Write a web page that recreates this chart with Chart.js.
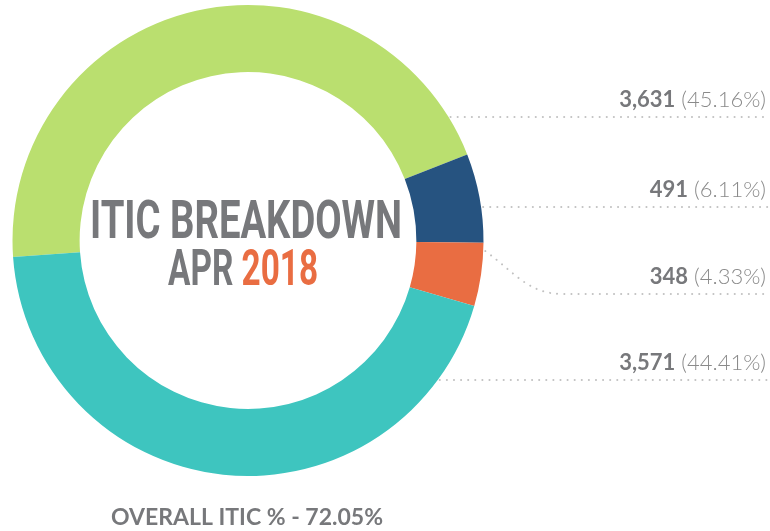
<!DOCTYPE html>
<html>
<head>
<meta charset="utf-8">
<script src="https://cdn.jsdelivr.net/npm/chart.js@4"></script>
<style>
    html, body { margin: 0; padding: 0; background: #fff; }
    canvas { display: block; }
</style>
</head>
<body>
<canvas id="iticChart" width="770" height="531"></canvas>
<script>
// ============================================================
// Data
// ============================================================

const CATEGORIES = ['Segment A', 'Segment B', 'Segment C', 'Segment D'];
const COUNTS = [3631, 491, 348, 3571];
const PERCENTS = ['45.16%', '6.11%', '4.33%', '44.41%'];
const COLORS = ['#badf6f', '#265380', '#e96d42', '#3ec5bf'];

const TITLE = 'ITIC BREAKDOWN';
const SUBTITLE_MONTH = 'APR';
const SUBTITLE_YEAR = '2018';
const FOOTER = 'OVERALL ITIC % - 72.05%';

// Label rows on the right (layout only)
const LABEL_LINE_Y = [117, 207, 294, 380];
const LABEL_ANCHOR_Y = [null, null, 251, null]; // where a leader bends back to the ring

const GREY = '#77787b';

// ============================================================
// Plugins
// ============================================================

// Centre title, drawn condensed
const centerTitle = {
    id: 'centerTitle',
    afterDraw(chart) {
        const ctx = chart.ctx;
        const arc = chart.getDatasetMeta(0).data[0];
        const cx = arc.x;

        ctx.save();
        ctx.textBaseline = 'alphabetic';

        // line 1
        ctx.font = 'bold 53px Roboto';
        let w = ctx.measureText(TITLE).width;
        let sx = 312 / w;
        ctx.save();
        ctx.translate(cx - 2, 238);
        ctx.scale(sx, 1);
        ctx.fillStyle = GREY;
        ctx.textAlign = 'center';
        ctx.fillText(TITLE, 0, 0);
        ctx.restore();

        // line 2
        ctx.font = 'bold 50px Roboto';
        const monthW = ctx.measureText(SUBTITLE_MONTH + ' ').width;
        const yearW = ctx.measureText(SUBTITLE_YEAR).width;
        sx = 150 / (monthW + yearW);
        ctx.save();
        ctx.translate(cx - 5 - (monthW + yearW) * sx / 2, 285);
        ctx.scale(sx, 1);
        ctx.textAlign = 'left';
        ctx.fillStyle = GREY;
        ctx.fillText(SUBTITLE_MONTH + ' ', 0, 0);
        ctx.fillStyle = COLORS[2];
        ctx.fillText(SUBTITLE_YEAR, monthW, 0);
        ctx.restore();

        // footer
        ctx.font = 'bold 23px Lato';
        ctx.fillStyle = GREY;
        ctx.textAlign = 'center';
        ctx.fillText(FOOTER, cx - 1, 525);

        ctx.restore();
    }
};

// Side labels with dotted leader lines
const sideLabels = {
    id: 'sideLabels',
    afterDraw(chart) {
        const ctx = chart.ctx;
        const meta = chart.getDatasetMeta(0);
        const rightX = chart.width;
        const textX = 766;

        ctx.save();
        meta.data.forEach((arc, i) => {
            const cx = arc.x, cy = arc.y, r = arc.outerRadius;
            const lineY = LABEL_LINE_Y[i];
            const anchorY = LABEL_ANCHOR_Y[i] === null ? lineY : LABEL_ANCHOR_Y[i];
            const startX = cx + Math.sqrt(Math.max(0, r * r - (anchorY - cy) * (anchorY - cy))) + 2;

            // leader
            ctx.strokeStyle = '#c2c2c2';
            ctx.lineWidth = 2;
            ctx.lineCap = 'round';
            ctx.setLineDash([0.1, 7]);
            ctx.beginPath();
            ctx.moveTo(startX, anchorY);
            if (anchorY !== lineY) {
                const endX = startX + 78;
                ctx.bezierCurveTo(startX + 30, anchorY + 22, endX - 35, lineY, endX, lineY);
            }
            ctx.lineTo(rightX, lineY);
            ctx.stroke();
            ctx.setLineDash([]);

            // text
            const countText = COUNTS[i].toLocaleString('en-US');
            const pctText = ' (' + PERCENTS[i] + ')';
            ctx.textBaseline = 'alphabetic';
            ctx.textAlign = 'right';
            ctx.font = '300 22px Lato';
            ctx.fillStyle = '#8a8a8a';
            ctx.fillText(pctText, textX, lineY - 10);
            const pctW = ctx.measureText(pctText).width;
            ctx.font = 'bold 22px Lato';
            ctx.fillStyle = GREY;
            ctx.fillText(countText, textX - pctW, lineY - 10);
        });
        ctx.restore();
    }
};

// ============================================================
// Chart
// ============================================================

window.addEventListener('DOMContentLoaded', function() {
    const ctx = document.getElementById('iticChart');

    new Chart(ctx, {
        type: 'doughnut',
        data: {
            labels: CATEGORIES,
            datasets: [{
                data: COUNTS,
                backgroundColor: COLORS,
                borderWidth: 0
            }]
        },
        options: {
            responsive: false,
            animation: false,
            rotation: -94,
            cutout: '71.5%',
            layout: {
                padding: { left: 12, right: 286, top: 5, bottom: 55 }
            },
            plugins: {
                legend: { display: false },
                tooltip: { enabled: false },
                title: { display: false }
            }
        },
        plugins: [centerTitle, sideLabels]
    });
});
</script>
</body>
</html>
